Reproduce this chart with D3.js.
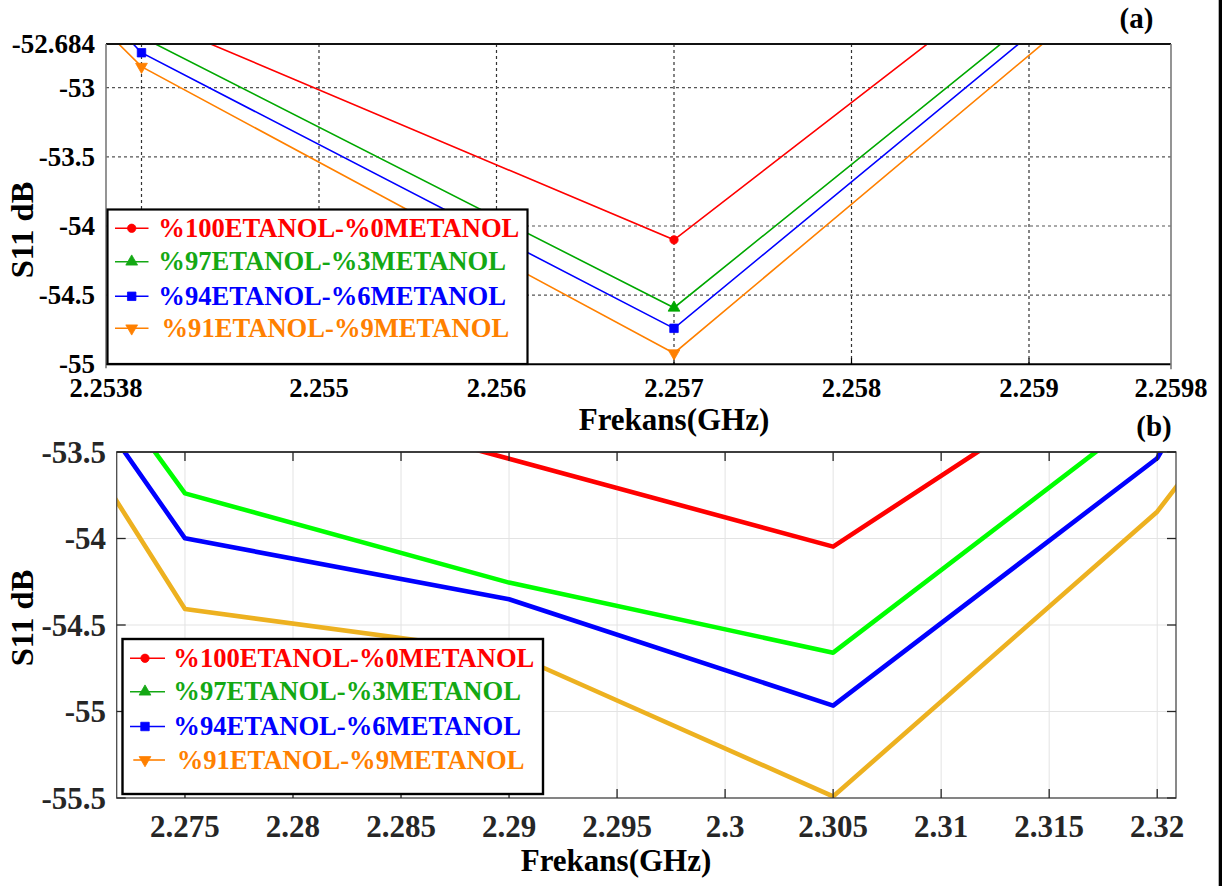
<!DOCTYPE html>
<html><head><meta charset="utf-8">
<script src="https://cdn.jsdelivr.net/npm/d3@7"></script>
<style>
body{margin:0;background:#fff}
svg{display:block}
text{font-family:"Liberation Serif","Times New Roman",serif;font-weight:bold}
</style>
</head><body>
<svg id="chart" width="1222" height="886"></svg>
<script>
// ---------- data ----------
const seriesNames = ["%100ETANOL-%0METANOL", "%97ETANOL-%3METANOL", "%94ETANOL-%6METANOL", "%91ETANOL-%9METANOL"];

// panel (a)
const freqA = [2.251, 2.254, 2.257, 2.260];
const a100 = [-48.57, -52.473, -54.100, -51.123];
const a97  = [-48.68, -52.633, -54.591, -51.483];
const a94  = [-48.713, -52.747, -54.740, -51.563];
const a91  = [-49.008, -52.848, -54.920, -51.689];
const xGridA = [2.254, 2.255, 2.256, 2.257, 2.258, 2.259];
const xLabelsA = [2.2538, 2.255, 2.256, 2.257, 2.258, 2.259, 2.2598];
const yGridA = [-53, -53.5, -54, -54.5];
const yLabelsA = [-52.684, -53, -53.5, -54, -54.5, -55];

// panel (b)
const freqB = [2.260, 2.275, 2.290, 2.305, 2.320, 2.335];
const b100 = [-52.50, -53.030, -53.539, -54.047, -52.819, -51.60];
const b97  = [-51.16, -53.739, -54.255, -54.660, -53.228, -51.80];
const b94  = [-51.32, -53.999, -54.351, -54.966, -53.536, -50.35];
const b91  = [-51.448, -54.408, -54.659, -55.491, -53.845, -51.41];
const xTicksB = [2.275, 2.28, 2.285, 2.29, 2.295, 2.3, 2.305, 2.31, 2.315, 2.32];
const yTicksB = [-53.5, -54, -54.5, -55, -55.5];

// ---------- styles ----------
const colorsA = ["#ff0000", "#00a800", "#0000ff", "#ff8000"];
const colorsB = ["#ff0000", "#00ff00", "#0000ff", "#edb120"];
const legendColors = ["#ff0000", "#14a814", "#0000ff", "#ff8000"];
const markerTypes = ["circle", "triUp", "square", "triDown"];

const svg = d3.select("#chart");
svg.append("rect").attr("width", 1222).attr("height", 886).attr("fill", "#fff");

function markerPath(type) {
  if (type === "circle") return d3.symbol(d3.symbolCircle, 55)();
  if (type === "square") return d3.symbol(d3.symbolSquare, 72)();
  return d3.symbol(d3.symbolTriangle, 60)();
}
function drawMarker(g, type, x, y, color) {
  g.append("path").attr("d", markerPath(type))
    .attr("transform", `translate(${x},${y})` + (type === "triDown" ? " rotate(180)" : ""))
    .attr("fill", color).attr("stroke", color).attr("stroke-width", 0.8);
}

// ---------- panel (a) ----------
{
  const L = 106, R = 1171, T = 44, B = 364.3;
  const x = d3.scaleLinear().domain([2.2538, 2.2598]).range([L, R]);
  const y = d3.scaleLinear().domain([-55, -52.684]).range([B, T]);
  const g = svg.append("g");
  svg.append("clipPath").attr("id", "clipA").append("rect")
    .attr("x", L).attr("y", T).attr("width", R - L).attr("height", B - T);

  // grid
  g.selectAll(".gx").data(xGridA).enter().append("line")
    .attr("x1", d => x(d)).attr("x2", d => x(d)).attr("y1", T).attr("y2", B)
    .attr("stroke", "#333").attr("stroke-width", 1.2).attr("stroke-dasharray", "3,3");
  g.selectAll(".gy").data(yGridA).enter().append("line")
    .attr("x1", L).attr("x2", R).attr("y1", d => y(d)).attr("y2", d => y(d))
    .attr("stroke", "#555").attr("stroke-width", 1.2).attr("stroke-dasharray", "3,3");

  // bottom inward ticks
  g.selectAll(".tb").data(xGridA).enter().append("line")
    .attr("x1", d => x(d)).attr("x2", d => x(d)).attr("y1", B).attr("y2", B - 6)
    .attr("stroke", "#000").attr("stroke-width", 1.2);

  // series
  const seriesA = [a100, a97, a94, a91];
  const line = d3.line().x(d => x(d[0])).y(d => y(d[1]));
  const pg = g.append("g").attr("clip-path", "url(#clipA)");
  seriesA.forEach((s, i) => {
    const pts = freqA.map((f, j) => [f, s[j]]);
    pg.append("path").attr("d", line(pts)).attr("fill", "none")
      .attr("stroke", colorsA[i]).attr("stroke-width", 1.6);
    pts.forEach(p => drawMarker(pg, markerTypes[i], x(p[0]), y(p[1]), colorsA[i]));
  });

  // axes box
  g.append("line").attr("x1", L).attr("x2", R).attr("y1", T).attr("y2", T).attr("stroke", "#111").attr("stroke-width", 1.8);
  g.append("line").attr("x1", L).attr("x2", R).attr("y1", B).attr("y2", B).attr("stroke", "#000").attr("stroke-width", 2);
  g.append("line").attr("x1", L).attr("x2", L).attr("y1", T).attr("y2", B + 4).attr("stroke", "#7a7a7a").attr("stroke-width", 1.6);
  g.append("line").attr("x1", R).attr("x2", R).attr("y1", T).attr("y2", B + 5).attr("stroke", "#7a7a7a").attr("stroke-width", 1.6);

  // tick labels
  g.selectAll(".lx").data(xLabelsA).enter().append("text")
    .attr("x", d => x(d)).attr("y", 397).attr("text-anchor", "middle")
    .attr("font-size", 26.5).attr("fill", "#000").text(d => d);
  g.selectAll(".ly").data(yLabelsA).enter().append("text")
    .attr("x", 95).attr("y", d => y(d)).attr("dy", "0.34em").attr("text-anchor", "end")
    .attr("font-size", 27).attr("fill", "#000").text(d => d);

  // axis titles
  g.append("text").attr("x", 674).attr("y", 430).attr("text-anchor", "middle")
    .attr("font-size", 31).attr("fill", "#000").text("Frekans(GHz)");
  g.append("text").attr("transform", "translate(33,230) rotate(-90)").attr("text-anchor", "middle")
    .attr("font-size", 32.5).attr("fill", "#000").text("S11 dB");
  g.append("text").attr("x", 1136.5).attr("y", 28).attr("text-anchor", "middle")
    .attr("font-size", 29).attr("fill", "#000").text("(a)");

  // legend
  const lg = g.append("g");
  lg.append("rect").attr("x", 107.5).attr("y", 209.5).attr("width", 420).attr("height", 154.5)
    .attr("fill", "#fff").attr("stroke", "#000").attr("stroke-width", 2.2);
  const rowsY = [228.3, 261.7, 296.3, 328.3];
  seriesNames.forEach((n, i) => {
    lg.append("line").attr("x1", 115).attr("x2", 148.5).attr("y1", rowsY[i]).attr("y2", rowsY[i])
      .attr("stroke", legendColors[i]).attr("stroke-width", 1.6);
    drawMarker(lg, markerTypes[i], 131.7, rowsY[i], legendColors[i]);
    lg.append("text").attr("x", i === 3 ? 161.5 : 158.3).attr("y", rowsY[i] + 8.5)
      .attr("font-size", 26.6).attr("fill", legendColors[i]).text(n);
  });
}

// ---------- panel (b) ----------
{
  const L = 116.7, R = 1176, T = 452, B = 798;
  const x = d3.scaleLinear().domain([2.27184, 2.32087]).range([L, R]);
  const y = d3.scaleLinear().domain([-55.5, -53.5]).range([B, T]);
  const g = svg.append("g");
  svg.append("clipPath").attr("id", "clipB").append("rect")
    .attr("x", L).attr("y", T).attr("width", R - L).attr("height", B - T);

  // grid
  g.selectAll(".gx").data(xTicksB).enter().append("line")
    .attr("x1", d => x(d)).attr("x2", d => x(d)).attr("y1", T).attr("y2", B)
    .attr("stroke", "#e3e3e3").attr("stroke-width", 1);
  g.selectAll(".gy").data(yTicksB).enter().append("line")
    .attr("x1", L).attr("x2", R).attr("y1", d => y(d)).attr("y2", d => y(d))
    .attr("stroke", "#e3e3e3").attr("stroke-width", 1);

  // series
  const seriesB = [b100, b97, b94, b91];
  const line = d3.line().x(d => x(d[0])).y(d => y(d[1]));
  const pg = g.append("g").attr("clip-path", "url(#clipB)");
  seriesB.forEach((s, i) => {
    const pts = freqB.map((f, j) => [f, s[j]]);
    pg.append("path").attr("d", line(pts)).attr("fill", "none")
      .attr("stroke", colorsB[i]).attr("stroke-width", 4.6).attr("stroke-linejoin", "round");
  });

  // axes box + inward ticks
  const ax = "#4a4a4a";
  g.append("rect").attr("x", L).attr("y", T).attr("width", R - L).attr("height", B - T)
    .attr("fill", "none").attr("stroke", ax).attr("stroke-width", 1.3);
  g.append("line").attr("x1", L).attr("x2", R).attr("y1", T).attr("y2", T).attr("stroke", "#262626").attr("stroke-width", 1.3);
  g.selectAll(".tt").data(xTicksB).enter().append("line")
    .attr("x1", d => x(d)).attr("x2", d => x(d)).attr("y1", T).attr("y2", T + 9)
    .attr("stroke", "#262626").attr("stroke-width", 1.3);
  g.selectAll(".tb").data(xTicksB).enter().append("line")
    .attr("x1", d => x(d)).attr("x2", d => x(d)).attr("y1", B).attr("y2", B - 9)
    .attr("stroke", "#262626").attr("stroke-width", 1.3);
  g.selectAll(".tl").data(yTicksB).enter().append("line")
    .attr("x1", L).attr("x2", L + 9).attr("y1", d => y(d)).attr("y2", d => y(d))
    .attr("stroke", "#262626").attr("stroke-width", 1.3);
  g.selectAll(".tr").data(yTicksB).enter().append("line")
    .attr("x1", R).attr("x2", R - 9).attr("y1", d => y(d)).attr("y2", d => y(d))
    .attr("stroke", "#262626").attr("stroke-width", 1.3);

  // tick labels
  g.selectAll(".lx").data(xTicksB).enter().append("text")
    .attr("x", d => x(d)).attr("y", 837).attr("text-anchor", "middle")
    .attr("font-size", 31).attr("fill", "#262626").text(d => d);
  g.selectAll(".ly").data(yTicksB).enter().append("text")
    .attr("x", 106).attr("y", d => y(d)).attr("dy", "0.34em").attr("text-anchor", "end")
    .attr("font-size", 31).attr("fill", "#262626").text(d => d);

  // titles
  g.append("text").attr("x", 616).attr("y", 871).attr("text-anchor", "middle")
    .attr("font-size", 31).attr("fill", "#000").text("Frekans(GHz)");
  g.append("text").attr("transform", "translate(33,618) rotate(-90)").attr("text-anchor", "middle")
    .attr("font-size", 32.5).attr("fill", "#000").text("S11 dB");
  g.append("text").attr("x", 1154).attr("y", 436).attr("text-anchor", "middle")
    .attr("font-size", 29).attr("fill", "#000").text("(b)");

  // legend
  const lg = g.append("g");
  lg.append("rect").attr("x", 122.5).attr("y", 639).attr("width", 420.5).attr("height", 155)
    .attr("fill", "#fff").attr("stroke", "#000").attr("stroke-width", 2.4);
  const rowsY = [658.3, 691.7, 726.5, 760];
  seriesNames.forEach((n, i) => {
    lg.append("line").attr("x1", i === 3 ? 133.3 : 130).attr("x2", 165).attr("y1", rowsY[i]).attr("y2", rowsY[i])
      .attr("stroke", legendColors[i]).attr("stroke-width", 1.6);
    drawMarker(lg, markerTypes[i], 145, rowsY[i], legendColors[i]);
    lg.append("text").attr("x", i === 3 ? 176.7 : 173.3).attr("y", rowsY[i] + 8.5)
      .attr("font-size", 26.6).attr("fill", legendColors[i]).text(n);
  });
}

// right edge black bar
svg.append("rect").attr("x", 1218.7).attr("y", 0).attr("width", 3.3).attr("height", 886).attr("fill", "#000");
</script>
</body></html>
